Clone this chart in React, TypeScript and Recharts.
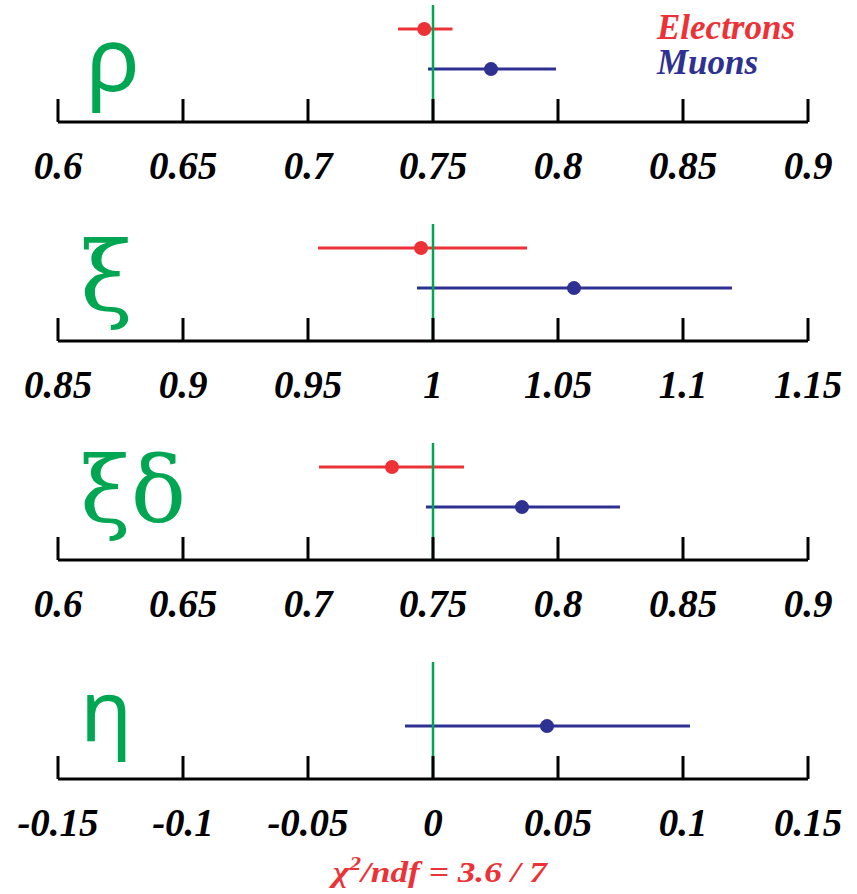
import React from 'react';
import { ScatterChart, Scatter, XAxis, YAxis, ErrorBar, ReferenceLine } from 'recharts';

const RED = '#ec3237';
const BLUE = '#2e3192';
const GREEN = '#00a651';

// Panel definitions
const panelNames = ['ρ', 'ξ', 'ξδ', 'η'];
const panelDomains: [number, number][] = [[0.6, 0.9], [0.85, 1.15], [0.6, 0.9], [-0.15, 0.15]];
const panelTicks: number[][] = [
  [0.6, 0.65, 0.7, 0.75, 0.8, 0.85, 0.9],
  [0.85, 0.9, 0.95, 1, 1.05, 1.1, 1.15],
  [0.6, 0.65, 0.7, 0.75, 0.8, 0.85, 0.9],
  [-0.15, -0.1, -0.05, 0, 0.05, 0.1, 0.15],
];
const tickLabels: string[][] = [
  ['0.6', '0.65', '0.7', '0.75', '0.8', '0.85', '0.9'],
  ['0.85', '0.9', '0.95', '1', '1.05', '1.1', '1.15'],
  ['0.6', '0.65', '0.7', '0.75', '0.8', '0.85', '0.9'],
  ['-0.15', '-0.1', '-0.05', '0', '0.05', '0.1', '0.15'],
];
const smValues = [0.75, 1, 0.75, 0];

// Electrons: [central, low, high] (null where absent)
const electrons: ([number, number, number] | null)[] = [
  [0.7465, 0.736, 0.7578],
  [0.9952, 0.954, 1.0376],
  [0.7336, 0.7044, 0.7624],
  null,
];
// Muons: [central, low, high]
const muons: [number, number, number][] = [
  [0.7732, 0.748, 0.7992],
  [1.0564, 0.9936, 1.1196],
  [0.7856, 0.7472, 0.8248],
  [0.0456, -0.0112, 0.1028],
];

const ROW_E = 1;
const ROW_M = 2;

const serifBI = { fontFamily: '"Liberation Serif", "Times New Roman", serif', fontWeight: 'bold' as const, fontStyle: 'italic' as const };

function makeTick(labels: string[], ticks: number[]) {
  return (props: any) => {
    const { x, y, payload } = props;
    const idx = ticks.indexOf(payload.value);
    const label = idx >= 0 ? labels[idx] : String(payload.value);
    return (
      <g>
        <line x1={x} y1={y} x2={x} y2={y - 23} stroke="#000" strokeWidth={3} />
        <text x={x} y={y + 57} textAnchor="middle" fontSize={39} fill="#000" {...serifBI}>{label}</text>
      </g>
    );
  };
}

const dot = (color: string) => (props: any) => (
  <circle cx={props.cx} cy={props.cy} r={7} fill={color} />
);

function Panel({ i }: { i: number }) {
  const e = electrons[i];
  const m = muons[i];
  const eData = e ? [{ x: e[0], y: ROW_E, err: [e[0] - e[1], e[2] - e[0]] }] : [];
  const mData = [{ x: m[0], y: ROW_M, err: [m[0] - m[1], m[2] - m[0]] }];
  return (
    <ScatterChart width={857} height={219} margin={{ top: 5, right: 49, bottom: 0, left: 58 }}>
      <XAxis
        type="number"
        dataKey="x"
        domain={panelDomains[i]}
        ticks={panelTicks[i]}
        allowDataOverflow
        height={97}
        tickSize={0}
        tickMargin={0}
        interval={0}
        axisLine={{ stroke: '#000', strokeWidth: 3 }}
        tick={makeTick(tickLabels[i], panelTicks[i])}
      />
      <YAxis type="number" dataKey="y" hide domain={[0.4, 3.32]} reversed />
      {e && (
        <Scatter data={eData} fill={RED} shape={dot(RED)} isAnimationActive={false}>
          <ErrorBar dataKey="err" direction="x" width={0} stroke={RED} strokeWidth={3} />
        </Scatter>
      )}
      <Scatter data={mData} fill={BLUE} shape={dot(BLUE)} isAnimationActive={false}>
        <ErrorBar dataKey="err" direction="x" width={0} stroke={BLUE} strokeWidth={3} />
      </Scatter>
      <ReferenceLine x={smValues[i]} stroke={GREEN} strokeWidth={2.5} />
    </ScatterChart>
  );
}

export default function App() {
  return (
    <div style={{ position: 'absolute', left: 0, top: 0, width: 857, height: 894, background: '#fff' }}>
      {[0, 1, 2, 3].map((i) => (
        <div key={i} style={{ position: 'absolute', left: 0, top: i * 219, width: 857, height: 219 }}>
          <Panel i={i} />
        </div>
      ))}
      <svg width={857} height={894} style={{ position: 'absolute', left: 0, top: 0, pointerEvents: 'none' }}>
        <text x={657} y={39} fontSize={35} fill={RED} {...serifBI}>Electrons</text>
        <text x={657} y={74} fontSize={35} fill={BLUE} {...serifBI}>Muons</text>
        <text x={86} y={91} fontSize={90} fill={GREEN} fontFamily='"Noto Sans", sans-serif'>{panelNames[0]}</text>
        <text x={80} y={310} fontSize={96} fill={GREEN} fontFamily='"DejaVu Serif", serif'>{panelNames[1]}</text>
        <text x={80} y={522} fontSize={92} fill={GREEN} fontFamily='"DejaVu Serif", serif'>{panelNames[2]}</text>
        <text x={80} y={741} fontSize={86} fill={GREEN} fontFamily='"Noto Sans", sans-serif'>{panelNames[3]}</text>
        <text x={333} y={882} fontSize={29} fill={RED} textLength={214} lengthAdjust="spacingAndGlyphs" {...serifBI}>
          χ<tspan fontSize={19} dy={-12}>2</tspan><tspan dy={12}>/ndf = 3.6 / 7</tspan>
        </text>
      </svg>
    </div>
  );
}
